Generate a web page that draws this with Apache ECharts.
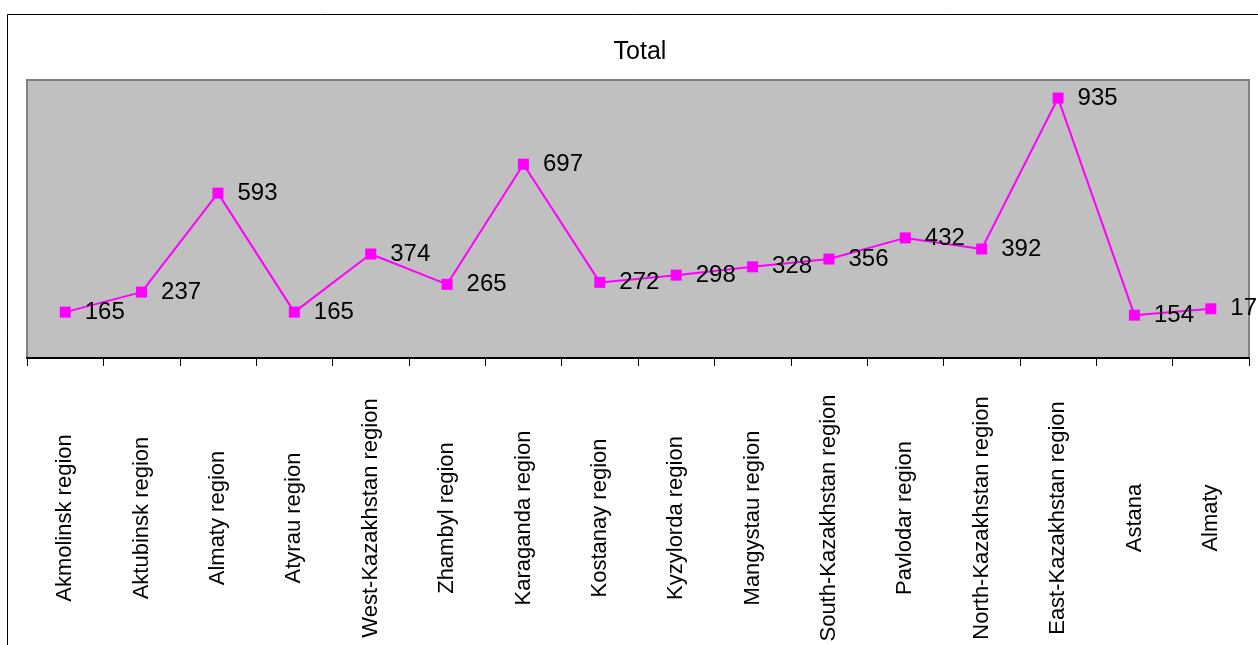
<!DOCTYPE html>
<html>
<head>
<meta charset="utf-8">
<script src="https://cdn.jsdelivr.net/npm/echarts@6/dist/echarts.min.js"></script>
<style>
  html, body { margin: 0; padding: 0; background: #fff; }
  #chart { width: 1258px; height: 645px; }
</style>
</head>
<body>
<div id="chart"></div>
<script>
const regions = [
  'Akmolinsk region', 'Aktubinsk region', 'Almaty region', 'Atyrau region',
  'West-Kazakhstan region', 'Zhambyl region', 'Karaganda region', 'Kostanay region',
  'Kyzylorda region', 'Mangystau region', 'South-Kazakhstan region', 'Pavlodar region',
  'North-Kazakhstan region', 'East-Kazakhstan region', 'Astana', 'Almaty'
]
const totals = [165, 237, 593, 165, 374, 265, 697, 272, 298, 328, 356, 432, 392, 935, 154, 177]

const font = '"Liberation Sans", Arial, sans-serif'

const chart = echarts.init(document.getElementById('chart'))
chart.setOption({
  animation: false,
  title: {
    text: 'Total',
    left: 635,
    top: 35,
    textAlign: 'center',
    textStyle: { fontFamily: font, fontSize: 25, fontWeight: 'normal', color: '#000' }
  },
  graphic: [{
    type: 'rect',
    shape: { x: 7.5, y: 14.5, width: 1400, height: 800 },
    style: { fill: 'none', stroke: '#000', lineWidth: 1 },
    silent: true
  }],
  grid: {
    left: 27,
    right: 9,
    top: 80,
    bottom: 287,
    show: true,
    backgroundColor: '#C0C0C0',
    borderColor: '#808080',
    borderWidth: 2
  },
  xAxis: {
    type: 'category',
    data: regions,
    boundaryGap: true,
    z: 5,
    axisLine: { show: true, lineStyle: { color: '#000', width: 2 } },
    axisTick: { show: true, inside: false, alignWithLabel: false, length: 8, lineStyle: { color: '#000', width: 1 } },
    axisLabel: {
      interval: 0,
      rotate: 90,
      align: 'center',
      verticalAlign: 'middle',
      margin: 160,
      hideOverlap: false,
      fontFamily: font,
      fontSize: 22,
      color: '#000'
    }
  },
  yAxis: {
    type: 'value',
    min: 0,
    max: 1000,
    axisLine: { show: false },
    axisTick: { show: false },
    axisLabel: { show: false },
    splitLine: { show: false }
  },
  series: [{
    type: 'line',
    data: totals,
    symbol: 'rect',
    symbolSize: 11,
    lineStyle: { color: '#FF00FF', width: 2 },
    itemStyle: { color: '#FF00FF' },
    label: {
      show: true,
      position: 'right',
      distance: 14,
      fontFamily: font,
      fontSize: 24,
      color: '#000'
    }
  }]
})
</script>
</body>
</html>
